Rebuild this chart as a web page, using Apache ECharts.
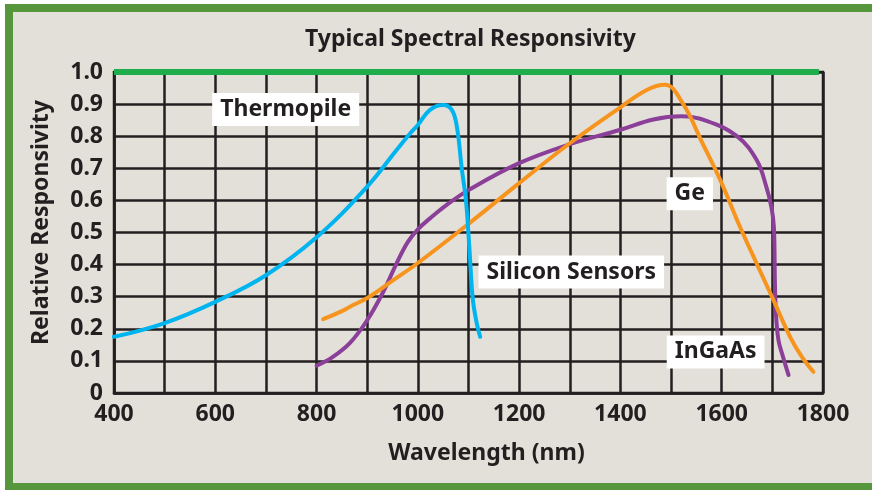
<!DOCTYPE html>
<html>
<head>
<meta charset="utf-8">
<script src="https://cdn.jsdelivr.net/npm/echarts@6/dist/echarts.min.js"></script>
<style>
    html, body { margin: 0; padding: 0; background: #fff; }
    #frame {
        position: absolute; left: 5px; top: 4px; right: 0; bottom: 0;
        background: #e3e0d9;
        border-left: 8px solid #56973d;
        border-top: 8px solid #56973d;
        border-bottom: 7px solid #56973d;
    }
    #main { position: absolute; left: 0; top: 0; width: 872px; height: 490px; }
</style>
</head>
<body>
<div id="frame"></div>
<div id="main"></div>
<script>
// wavelength (nm) / relative responsivity
var flatWl = [400, 1792];
var flatResp = [1.0, 1.0];

var siliconWl = [400, 500, 600, 700, 800, 900, 958, 985, 1000, 1024, 1050, 1067, 1077, 1087, 1095, 1102, 1108, 1115, 1123];
var siliconResp = [0.175, 0.218, 0.284, 0.367, 0.485, 0.643, 0.757, 0.809, 0.835, 0.882, 0.897, 0.882, 0.83, 0.695, 0.60, 0.445, 0.30, 0.227, 0.175];

var geWl = [813, 850, 866, 900, 950, 1000, 1100, 1200, 1300, 1400, 1452, 1488, 1524, 1560, 1597, 1636, 1670, 1702, 1735, 1758, 1781];
var geResp = [0.23, 0.255, 0.269, 0.296, 0.35, 0.405, 0.527, 0.654, 0.778, 0.89, 0.944, 0.96, 0.90, 0.785, 0.664, 0.518, 0.40, 0.29, 0.175, 0.113, 0.066];

var ingaasWl = [800, 830, 866, 900, 930, 958, 980, 1000, 1024, 1057, 1100, 1200, 1300, 1400, 1465, 1520, 1570, 1630, 1669, 1688, 1698, 1703, 1705, 1707, 1712, 1720, 1732];
var ingaasResp = [0.085, 0.11, 0.156, 0.227, 0.31, 0.404, 0.47, 0.51, 0.544, 0.586, 0.632, 0.716, 0.775, 0.82, 0.852, 0.862, 0.848, 0.80, 0.726, 0.643, 0.58, 0.518, 0.35, 0.25, 0.165, 0.118, 0.056];

// text boxes on the plot
var tagNames = ['Thermopile', 'Ge', 'Silicon Sensors', 'InGaAs'];
var tagWl = [739, 1537, 1303, 1588];
var tagResp = [0.883, 0.621, 0.377, 0.128];

var TEXT = '#231f20';
var FONT = 'Noto Sans';
var SIZE = 23;

function pairs (xs, ys) {
    var out = [];
    for (var i = 0; i < xs.length; i++) {
        out.push([xs[i], ys[i]]);
    }
    return out;
}

function curve (name, xs, ys, color) {
    return {
        name: name,
        type: 'line',
        data: pairs(xs, ys),
        showSymbol: false,
        smooth: 0.4,
        lineStyle: { color: color, width: 4, cap: 'round' }
    };
}

var tags = [];
for (var i = 0; i < tagNames.length; i++) {
    tags.push({ name: tagNames[i], coord: [tagWl[i], tagResp[i]] });
}

var chart = echarts.init(document.getElementById('main'));
var option = {
    animation: false,
    backgroundColor: 'transparent',
    title: {
        text: 'Typical Spectral Responsivity',
        left: 300,
        top: 23,
        textStyle: { fontFamily: FONT, fontSize: SIZE, fontWeight: 'bold', color: TEXT }
    },
    grid: {
        left: 114, right: 49, top: 72, bottom: 97,
        show: true,
        borderColor: TEXT,
        borderWidth: 2.5
    },
    xAxis: {
        type: 'value',
        min: 400, max: 1800, interval: 100,
        name: 'Wavelength (nm)',
        nameLocation: 'middle',
        nameGap: 49,
        nameTextStyle: { fontFamily: FONT, fontSize: SIZE, fontWeight: 'bold', color: TEXT, padding: [0, 0, 0, 36] },
        axisLine: { lineStyle: { color: TEXT, width: 2.5 } },
        axisTick: { show: false },
        axisLabel: {
            margin: 10,
            fontFamily: FONT, fontSize: SIZE, fontWeight: 'bold', color: TEXT,
            formatter: function (v) { return v % 200 === 0 ? String(v) : ''; }
        },
        splitLine: { show: true, lineStyle: { color: TEXT, width: 2.5 } }
    },
    yAxis: {
        type: 'value',
        min: 0, max: 1, interval: 0.1,
        name: 'Relative Responsivity',
        nameLocation: 'middle',
        nameGap: 61,
        nameTextStyle: { fontFamily: FONT, fontSize: SIZE, fontWeight: 'bold', color: TEXT, padding: [0, 0, 0, 20] },
        axisLine: { lineStyle: { color: TEXT, width: 2.5 } },
        axisTick: { show: false },
        axisLabel: {
            margin: 11,
            fontFamily: FONT, fontSize: SIZE, fontWeight: 'bold', color: TEXT,
            formatter: function (v) { return v === 0 ? '0' : v.toFixed(1); }
        },
        splitLine: { show: true, lineStyle: { color: TEXT, width: 2.5 } }
    },
    series: [
        {
            name: 'Thermopile',
            type: 'line',
            data: pairs(flatWl, flatResp),
            showSymbol: false,
            clip: false,
            lineStyle: { color: '#1fad4b', width: 6 }
        },
        curve('InGaAs', ingaasWl, ingaasResp, '#8b3f98'),
        curve('Ge', geWl, geResp, '#f7941d'),
        curve('Silicon', siliconWl, siliconResp, '#00b4ef'),
        {
            name: 'tags',
            type: 'line',
            data: [],
            markPoint: {
                symbol: 'rect',
                symbolSize: 0,
                silent: true,
                label: {
                    show: true,
                    position: 'inside',
                    formatter: '{b}',
                    backgroundColor: '#ffffff',
                    padding: [6, 8, 4, 8],
                    fontFamily: FONT, fontSize: SIZE, fontWeight: 'bold', color: TEXT
                },
                data: tags
            }
        }
    ]
};
chart.setOption(option);
</script>
</body>
</html>
